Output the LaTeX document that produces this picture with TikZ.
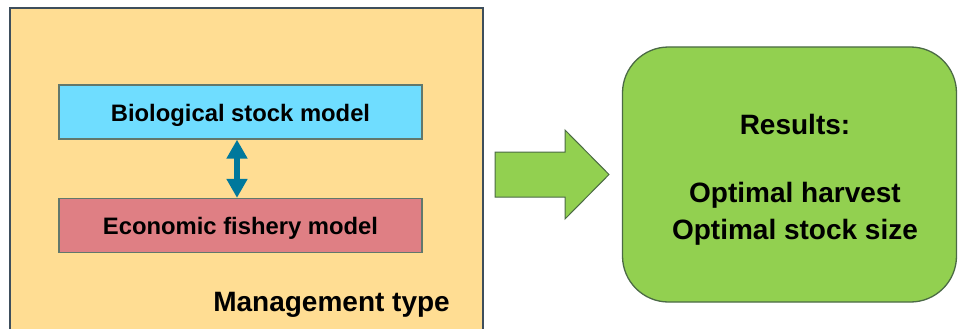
\documentclass[tikz,border=0pt]{standalone}
\usepackage{fontspec}
\setmainfont{Liberation Sans}
\usetikzlibrary{arrows.meta}
\definecolor{mgmtfill}{HTML}{FFDD93}
\definecolor{mgmtline}{HTML}{3E4E5C}
\definecolor{biofill}{HTML}{6FDDFF}
\definecolor{ecofill}{HTML}{DF7F84}
\definecolor{boxline}{HTML}{62786C}
\definecolor{linkcol}{HTML}{00789C}
\definecolor{resfill}{HTML}{92D050}
\definecolor{resline}{HTML}{4B6A45}
\tikzset{
  modelbox/.style={draw=boxline, line width=1.3pt, minimum width=363pt, minimum height=54pt,
    inner sep=0pt, text height=23pt, text depth=5pt,
    font=\fontsize{23.8}{28}\selectfont\bfseries},
  bigtext/.style={font=\fontsize{28}{34}\selectfont\bfseries, inner sep=0pt},
  link/.style={linkcol, line width=6pt,
    {Triangle[width=20pt,length=19pt]}-{Triangle[width=20pt,length=19pt]}},
  resultbox/.style={draw=resline, fill=resfill, line width=1.3pt, rounded corners=46pt,
    minimum width=334pt, minimum height=255pt, inner sep=0pt},
  blockarrow/.style={draw=resline, fill=resfill, line width=1pt, line join=miter}
}
\begin{document}
\begin{tikzpicture}[x=1pt, y=-1pt]
  \useasboundingbox (0,0) rectangle (958,329);
  \fill[white] (0,0) rectangle (958,329);

  % management frame, running off the bottom edge
  \fill[mgmtfill] (10,329) -- (10,8) -- (483,8) -- (483,329) -- cycle;
  \draw[mgmtline, line width=1.2pt] (10,329) -- (10,8) -- (483,8) -- (483,329);
  \node[bigtext, anchor=base east] (mgmt) at (450,311) {Management type};

  % the two coupled models
  \node[modelbox, fill=biofill] (bio) at (240.5,112) {Biological stock model};
  \node[modelbox, fill=ecofill] (eco) at (240.5,225.5) {Economic fishery model};
  \draw[link] ([xshift=-3.5pt]bio.south) -- ([xshift=-3.5pt]eco.north);

  % block arrow towards the results
  \coordinate (ba1) at (495,152);
  \coordinate (ba2) at (565,152);
  \coordinate (ba3) at (565,130);
  \coordinate (tip) at (609,174.5);
  \coordinate (ba4) at (565,219);
  \coordinate (ba5) at (565,197);
  \coordinate (ba6) at (495,197);
  \draw[blockarrow] (ba1) -- (ba2) -- (ba3) -- (tip) -- (ba4) -- (ba5) -- (ba6) -- cycle;

  % results
  \node[resultbox] (res) at (789.5,174.5) {};
  \node[bigtext, anchor=base] (r1) at (795,134) {Results:};
  \node[bigtext, anchor=base] (r2) at (795,202) {Optimal harvest};
  \node[bigtext, anchor=base] (r3) at (795,239) {Optimal stock size};
\end{tikzpicture}
\end{document}
